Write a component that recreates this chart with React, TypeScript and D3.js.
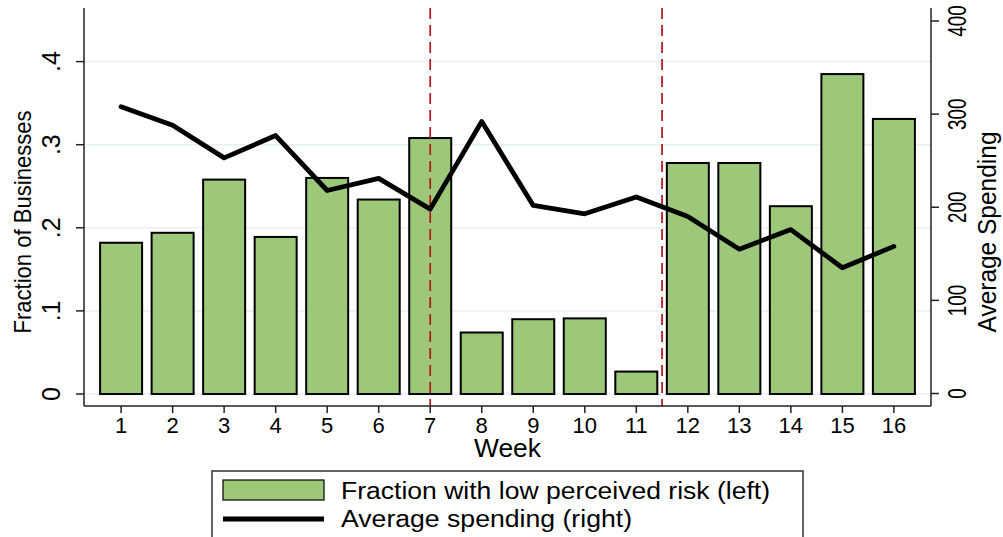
import React from "react";
import * as d3 from "d3";

const weeks = [1, 2, 3, 4, 5, 6, 7, 8, 9, 10, 11, 12, 13, 14, 15, 16];
const fractionLowRisk = [0.182, 0.194, 0.258, 0.189, 0.26, 0.234, 0.308, 0.074, 0.09, 0.091, 0.027, 0.278, 0.278, 0.226, 0.385, 0.331];
const avgSpending = [308, 288, 253, 277, 218, 231, 198, 292, 202, 193, 211, 190, 155, 176, 135, 158];
const leftTicks = [0, 0.1, 0.2, 0.3, 0.4];
const leftTickLabels = ["0", ".1", ".2", ".3", ".4"];
const rightTicks = [0, 100, 200, 300, 400];
const markerWeeks = [7, 11.5];
const xTitle = "Week";
const leftTitle = "Fraction of Businesses";
const rightTitle = "Average Spending";
const legendLabels = ["Fraction with low perceived risk (left)", "Average spending (right)"];

const W = 1003, H = 537;
const L = 84, R = 931, T = 8, B = 406;
const FONT = "'Liberation Sans', Arial, Helvetica, sans-serif";

export default function App() {
  const x = d3.scaleLinear().domain([0.28, 16.72]).range([L, R]);
  const yL = d3.scaleLinear().domain([0, 0.4]).range([394, 61.6]);
  const yR = d3.scaleLinear().domain([0, 400]).range([393.5, 21]);
  const barW = 42;
  const line = d3.line<number>().x((_, i) => x(weeks[i])).y((d) => yR(d));

  return (
    <svg width={W} height={H} style={{ position: "absolute", left: 0, top: 0, background: "#fff" }} fontFamily={FONT}>
      <rect x={0} y={0} width={W} height={H} fill="#fff" />
      {leftTicks.map((t) => (
        <line key={"g" + t} x1={L} x2={R} y1={yL(t)} y2={yL(t)} stroke="#E6EFF1" strokeWidth={1.5} />
      ))}
      {fractionLowRisk.map((v, i) => (
        <rect key={"b" + i} x={x(weeks[i]) - barW / 2} y={yL(v)} width={barW} height={yL(0) - yL(v)}
          fill="#9DC87A" stroke="#000" strokeWidth={2} />
      ))}
      {markerWeeks.map((w) => (
        <line key={"m" + w} x1={x(w)} x2={x(w)} y1={T} y2={B} stroke="#B0141C" strokeWidth={1.7} strokeDasharray="11,6" />
      ))}
      <path d={line(avgSpending) || ""} fill="none" stroke="#000" strokeWidth={4.8} strokeLinejoin="round" strokeLinecap="round" />
      <line x1={L} x2={L} y1={T} y2={B} stroke="#222" strokeWidth={1.5} />
      <line x1={R} x2={R} y1={T} y2={B} stroke="#222" strokeWidth={1.5} />
      <line x1={L} x2={R} y1={B} y2={B} stroke="#222" strokeWidth={1.5} />
      {leftTicks.map((t, i) => (
        <g key={"lt" + t}>
          <line x1={L - 8} x2={L} y1={yL(t)} y2={yL(t)} stroke="#222" strokeWidth={1.5} />
          <text transform={`translate(60,${yL(t)}) rotate(-90)`} textAnchor="middle" fontSize={25} fill="#000">{leftTickLabels[i]}</text>
        </g>
      ))}
      {rightTicks.map((t) => (
        <g key={"rt" + t}>
          <line x1={R} x2={R + 8} y1={yR(t)} y2={yR(t)} stroke="#222" strokeWidth={1.5} />
          <text transform={`translate(966,${yR(t)}) rotate(-90)`} textAnchor="middle" fontSize={26} fill="#000"
            textLength={String(t).length * 10.5} lengthAdjust="spacingAndGlyphs">{String(t)}</text>
        </g>
      ))}
      {weeks.map((w) => (
        <g key={"xt" + w}>
          <line x1={x(w)} x2={x(w)} y1={B} y2={B + 7} stroke="#222" strokeWidth={1.5} />
          <text x={x(w)} y={433} textAnchor="middle" fontSize={22} fill="#000">{String(w)}</text>
        </g>
      ))}
      <text x={(x(1) + x(16)) / 2} y={457} textAnchor="middle" fontSize={25} fill="#000"
        textLength={67} lengthAdjust="spacingAndGlyphs">{xTitle}</text>
      <text transform={`translate(31,222) rotate(-90)`} textAnchor="middle" fontSize={24} fill="#000"
        textLength={223} lengthAdjust="spacingAndGlyphs">{leftTitle}</text>
      <text transform={`translate(996,232) rotate(-90)`} textAnchor="middle" fontSize={25} fill="#000"
        textLength={201} lengthAdjust="spacingAndGlyphs">{rightTitle}</text>
      <rect x={212} y={471} width={591} height={70} fill="#fff" stroke="#333" strokeWidth={1.5} />
      <rect x={223} y={480} width={101} height={20} fill="#9DC87A" stroke="#000" strokeWidth={1.2} />
      <line x1={223} x2={324} y1={519} y2={519} stroke="#000" strokeWidth={5} />
      <text x={341} y={499} fontSize={23} fill="#000" textLength={429} lengthAdjust="spacingAndGlyphs">{legendLabels[0]}</text>
      <text x={341} y={527} fontSize={23} fill="#000" textLength={291} lengthAdjust="spacingAndGlyphs">{legendLabels[1]}</text>
    </svg>
  );
}
